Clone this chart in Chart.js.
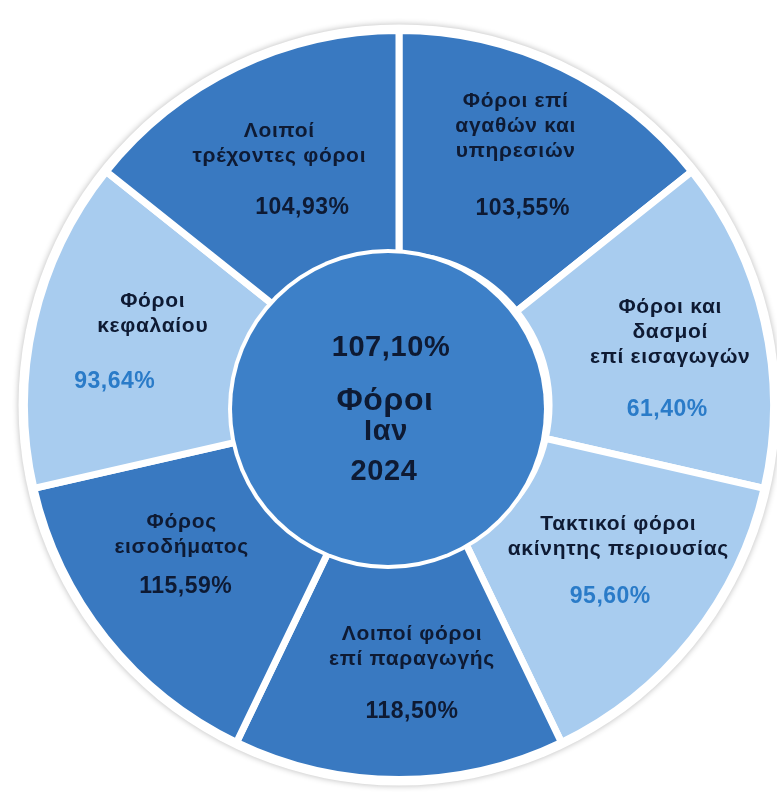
<!DOCTYPE html>
<html>
<head>
<meta charset="utf-8">
<script src="https://cdn.jsdelivr.net/npm/chart.js@4.4.0/dist/chart.umd.min.js"></script>
<style>
  html, body { margin: 0; padding: 0; background: #ffffff; }
  #wrap { width: 777px; height: 805px; position: relative; }
</style>
</head>
<body>
<div id="wrap"><canvas id="chart"></canvas></div>
<script>
// κατηγορίες φόρων (δεξιόστροφα από πάνω)
const categories = [
    ['Φόροι επί', 'αγαθών και', 'υπηρεσιών'],
    ['Φόροι και', 'δασμοί', 'επί εισαγωγών'],
    ['Τακτικοί φόροι', 'ακίνητης περιουσίας'],
    ['Λοιποί φόροι', 'επί παραγωγής'],
    ['Φόρος', 'εισοδήματος'],
    ['Φόροι', 'κεφαλαίου'],
    ['Λοιποί', 'τρέχοντες φόροι']
];
const percentages = [103.55, 61.40, 95.60, 118.50, 115.59, 93.64, 104.93];
const sliceShares = [1, 1, 1, 1, 1, 1, 1]; // όλα τα κομμάτια ίσα
const totalPercentage = 107.10;
const centerTitle = 'Φόροι';
const centerMonth = 'Ιαν';
const centerYear = '2024';

// μικρές μετατοπίσεις κειμένου ανά κομμάτι [dx, dy]
const labelNudge = [[0, -10], [9, 13], [9, -10], [13, -1], [-7, -12], [16, -5], [-3, 7]];
const pctNudge = [[7, -5], [6, 14], [1, -15], [13, -1], [-3, -25], [-22, -2], [20, 7]];

const DARK = '#3979C1';
const LIGHT = '#A8CCEF';
const CENTER = '#3D80C8';
const TEXT_DARK = '#0E1A33';
const TEXT_BLUE = '#2A7BC8';
const FONT = '"Liberation Sans", Arial, sans-serif';

const fmt = v => v.toFixed(2).replace('.', ',') + '%';

const ringPlugin = {
    id: 'ringPlugin',
    beforeDatasetsDraw(chart) {
        const ctx = chart.ctx;
        const arc = chart.getDatasetMeta(0).data[0];
        ctx.save();
        ctx.beginPath();
        ctx.arc(arc.x, arc.y, arc.outerRadius + 6, 0, Math.PI * 2);
        ctx.fillStyle = '#ffffff';
        ctx.shadowColor = 'rgba(0,0,0,0.28)';
        ctx.shadowBlur = 6;
        ctx.fill();
        ctx.restore();
    },
    afterDatasetsDraw(chart) {
        const ctx = chart.ctx;
        const arcs = chart.getDatasetMeta(0).data;
        const cx = arcs[0].x, cy = arcs[0].y;

        // κεντρικός κύκλος
        const ccx = cx - 11, ccy = cy + 4;
        ctx.save();
        ctx.beginPath();
        ctx.arc(ccx, ccy, 160, 0, Math.PI * 2);
        ctx.fillStyle = '#ffffff';
        ctx.fill();
        ctx.beginPath();
        ctx.arc(ccx, ccy, 156, 0, Math.PI * 2);
        ctx.fillStyle = CENTER;
        ctx.fill();

        ctx.textAlign = 'center';
        ctx.textBaseline = 'middle';
        ctx.fillStyle = TEXT_DARK;
        ctx.letterSpacing = '0.6px';
        ctx.font = 'bold 29px ' + FONT;
        ctx.fillText(fmt(totalPercentage), cx - 8, cy - 57);
        ctx.font = 'bold 32px ' + FONT;
        ctx.fillText(centerTitle, cx - 14, cy - 4);
        ctx.font = 'bold 29px ' + FONT;
        ctx.fillText(centerMonth, cx - 13, cy + 27);
        ctx.font = 'bold 29px ' + FONT;
        ctx.fillText(centerYear, cx - 15, cy + 67);

        // ετικέτες κομματιών
        arcs.forEach((a, i) => {
            const mid = (a.startAngle + a.endAngle) / 2;
            const r = a.innerRadius + (a.outerRadius - a.innerRadius) * 0.53;
            const px = cx + Math.cos(mid) * r;
            const py = cy + Math.sin(mid) * r;
            const lines = categories[i];
            const lineH = 25, gap = 52;
            const h = (lines.length - 1) * lineH + gap;
            const y0 = py - h / 2;
            const [lx, ly] = labelNudge[i];
            const [qx, qy] = pctNudge[i];
            ctx.letterSpacing = '0.7px';
            ctx.font = 'bold 21px ' + FONT;
            ctx.fillStyle = TEXT_DARK;
            lines.forEach((t, k) => ctx.fillText(t, px + lx, y0 + ly + k * lineH));
            ctx.letterSpacing = '0.5px';
            ctx.font = 'bold 23px ' + FONT;
            ctx.fillStyle = percentages[i] < 100 ? TEXT_BLUE : TEXT_DARK;
            ctx.fillText(fmt(percentages[i]), px + qx, y0 + h + qy);
        });
        ctx.restore();
    }
};

new Chart(document.querySelector('#chart'), {
    type: 'doughnut',
    data: {
        labels: categories.map(c => c.join(' ')),
        datasets: [{
            data: sliceShares,
            backgroundColor: percentages.map(p => p < 100 ? LIGHT : DARK),
            borderColor: '#ffffff',
            borderWidth: 7,
            hoverOffset: 0
        }]
    },
    options: {
        responsive: true,
        maintainAspectRatio: false,
        animation: false,
        cutout: 150,
        rotation: 0,
        layout: { padding: { left: 21, right: 0, top: 27, bottom: 22 } },
        plugins: {
            legend: { display: false },
            tooltip: { enabled: false }
        }
    },
    plugins: [ringPlugin]
});
</script>
</body>
</html>
